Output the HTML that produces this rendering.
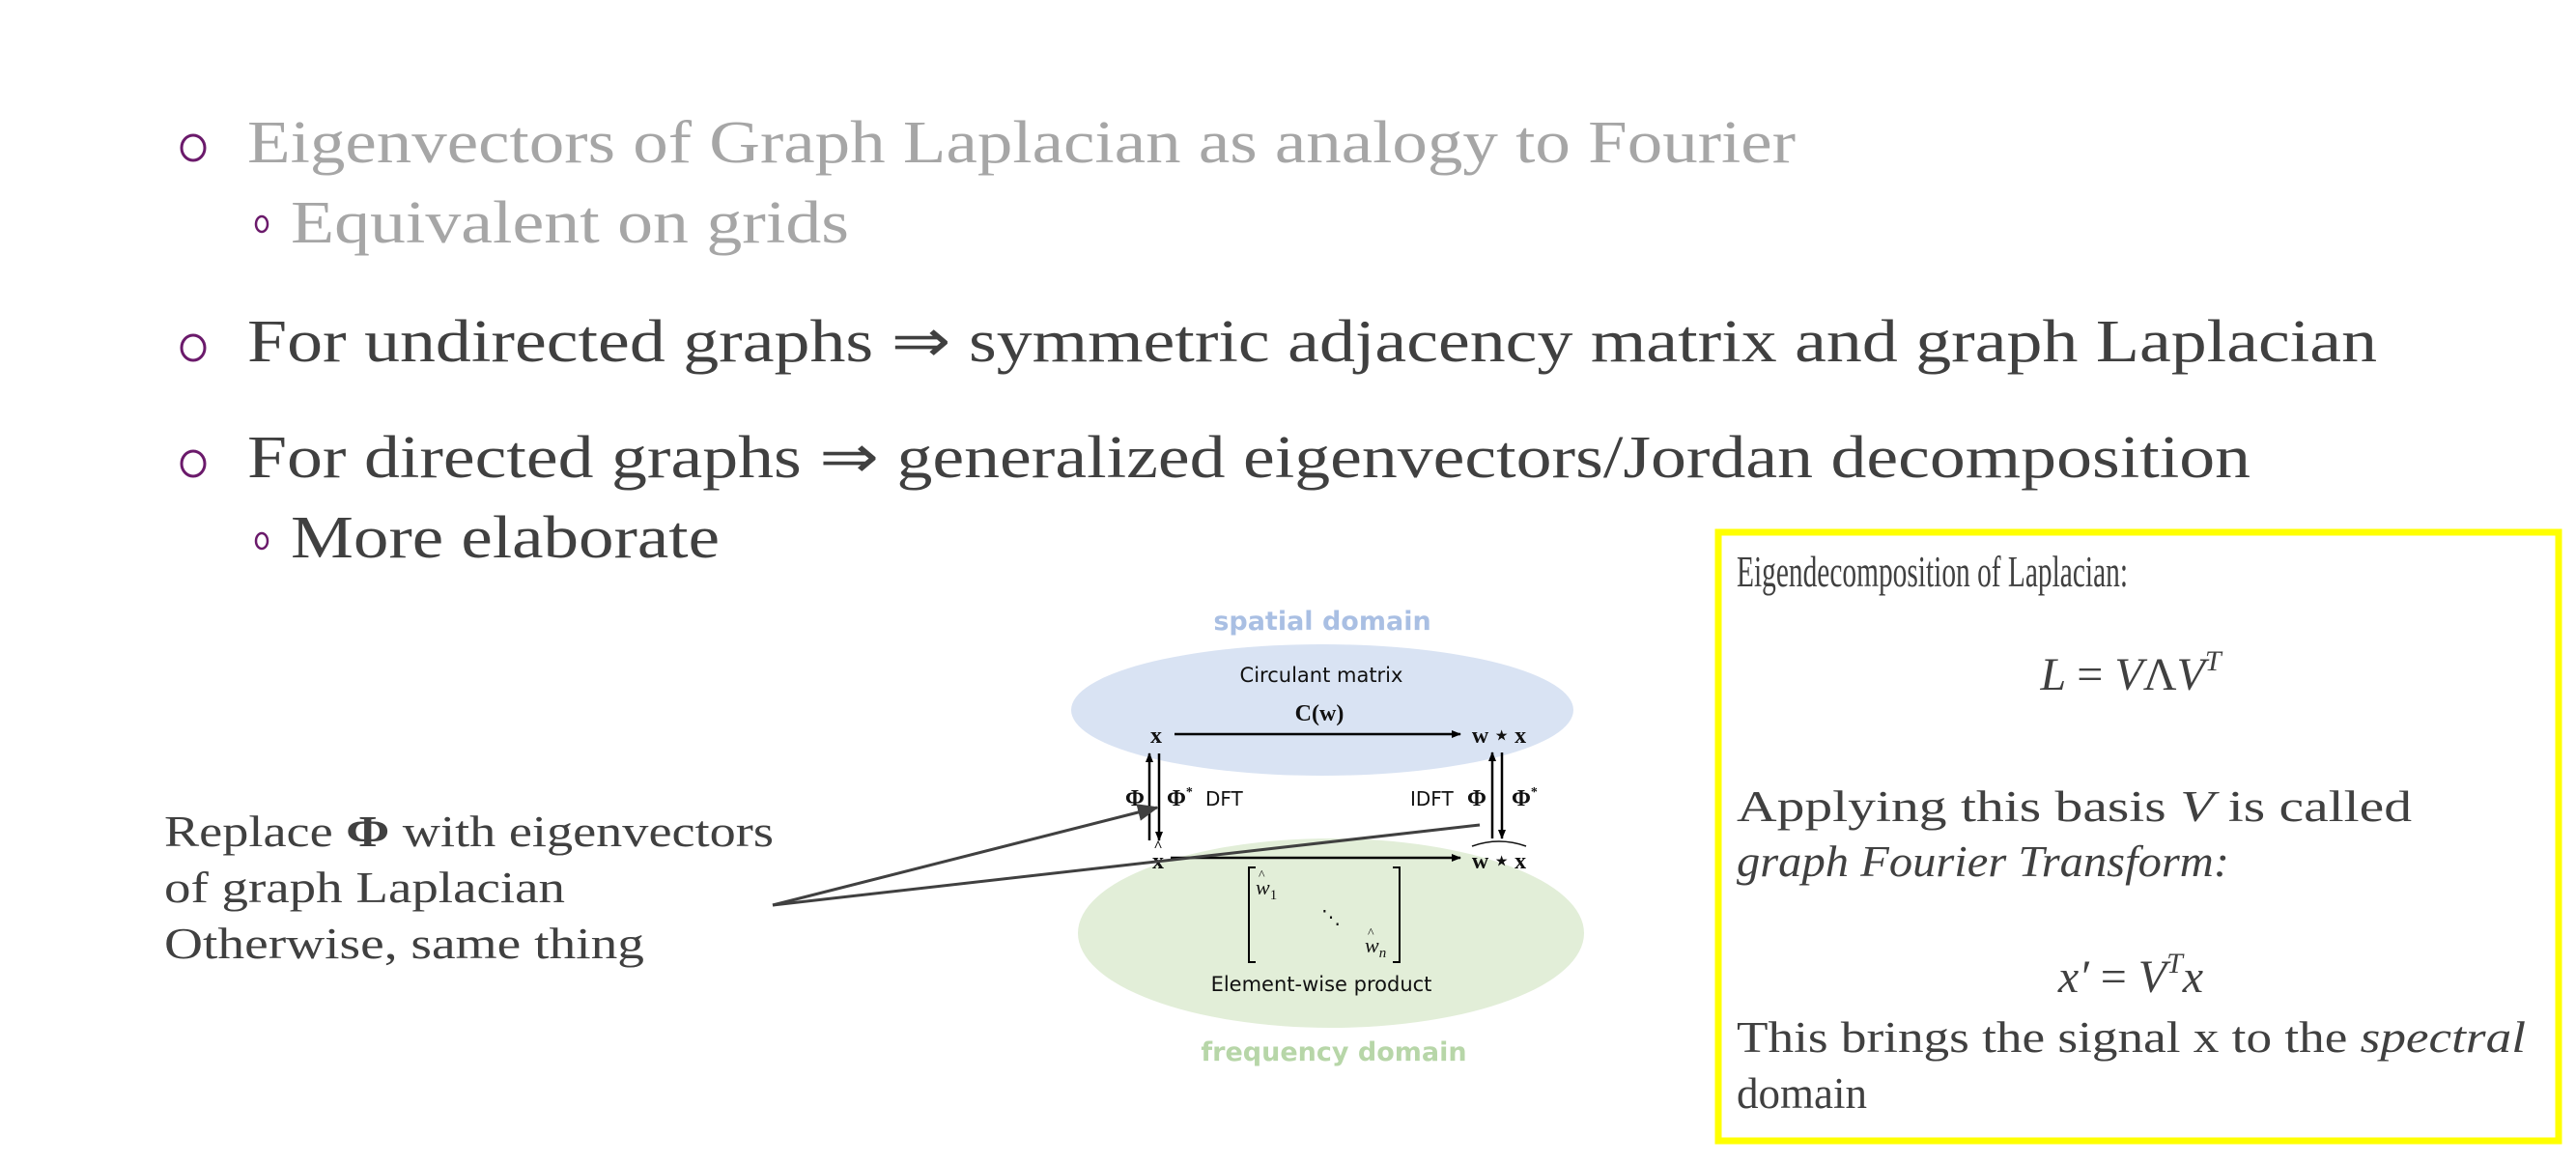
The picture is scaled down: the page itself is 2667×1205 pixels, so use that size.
<!DOCTYPE html>
<html><head><meta charset="utf-8"><style>
html,body{margin:0;padding:0;background:#fff;}
svg{display:block;}
</style></head><body>
<svg width="2667" height="1205" viewBox="0 0 2667 1205" xmlns="http://www.w3.org/2000/svg">
<defs>
<marker id="ah" markerWidth="10" markerHeight="10" refX="9" refY="5" orient="auto" markerUnits="userSpaceOnUse"><path d="M0,1 L10,5 L0,9 Z" fill="#000"/></marker>
<marker id="ah2" markerWidth="22" markerHeight="18" refX="20" refY="9" orient="auto" markerUnits="userSpaceOnUse"><path d="M0,0 L22,9 L0,18 Z" fill="#404040"/></marker>
</defs>
<g font-family="Liberation Serif, serif">
<g fill="none" stroke="#6b1a6b" stroke-width="3">
<ellipse cx="200" cy="153" rx="12" ry="13"/>
<ellipse cx="200" cy="360" rx="12" ry="13"/>
<ellipse cx="200" cy="480" rx="12" ry="13"/>
<ellipse cx="271" cy="232" rx="6" ry="8" stroke-width="2.5"/>
<ellipse cx="271" cy="560" rx="6" ry="8" stroke-width="2.5"/>
</g>
<text x="256" y="168" font-size="62" fill="#a6a6a6" textLength="1603" lengthAdjust="spacingAndGlyphs">Eigenvectors of Graph Laplacian as analogy to Fourier</text>
<text x="301" y="251" font-size="62" fill="#a6a6a6" textLength="578" lengthAdjust="spacingAndGlyphs">Equivalent on grids</text>
<text x="256" y="374" font-size="62" fill="#404040" textLength="2205" lengthAdjust="spacingAndGlyphs">For undirected graphs ⇒ symmetric adjacency matrix and graph Laplacian</text>
<text x="256" y="494" font-size="62" fill="#404040" textLength="2074" lengthAdjust="spacingAndGlyphs">For directed graphs ⇒ generalized eigenvectors/Jordan decomposition</text>
<text x="301" y="577" font-size="62" fill="#404040" textLength="444" lengthAdjust="spacingAndGlyphs">More elaborate</text>

<text x="170" y="876" font-size="46" fill="#404040" textLength="631" lengthAdjust="spacingAndGlyphs">Replace <tspan font-weight="bold">Φ</tspan> with eigenvectors</text>
<text x="170" y="934" font-size="46" fill="#404040" textLength="415" lengthAdjust="spacingAndGlyphs">of graph Laplacian</text>
<text x="170" y="992" font-size="46" fill="#404040" textLength="497" lengthAdjust="spacingAndGlyphs">Otherwise, same thing</text>
</g>

<ellipse cx="1369" cy="735" rx="260" ry="68" fill="#d9e3f3"/>
<ellipse cx="1378" cy="966" rx="262" ry="98" fill="#e2eed8"/>
<g font-family="DejaVu Sans, Liberation Sans, sans-serif" text-anchor="middle">
<text x="1369" y="652" font-size="27" font-weight="bold" fill="#a9bfe3">spatial domain</text>
<text x="1381" y="1098" font-size="27" font-weight="bold" fill="#b7d6a8">frequency domain</text>
<text x="1368" y="706" font-size="21" fill="#111">Circulant matrix</text>
<text x="1368" y="1026" font-size="21" fill="#111">Element-wise product</text>
</g>
<g font-family="Liberation Serif, serif" fill="#111" font-weight="bold" font-size="24">
<text x="1366" y="746" text-anchor="middle">C(w)</text>
<text x="1197" y="769" text-anchor="middle">x</text>
<text x="1552" y="769" text-anchor="middle">w ⋆ x</text>
<text x="1199" y="899" text-anchor="middle">x</text>
<text x="1199" y="881" text-anchor="middle" font-size="16">^</text>
<text x="1552" y="899" text-anchor="middle">w ⋆ x</text>
<path d="M1524,876 Q1552,866 1580,876" fill="none" stroke="#111" stroke-width="1.5"/>
<text x="1175" y="834" text-anchor="middle">Φ</text>
<text x="1208" y="834">Φ<tspan font-size="14" dy="-10">*</tspan></text>
<text x="1519" y="834">Φ</text>
<text x="1565" y="834">Φ<tspan font-size="14" dy="-10">*</tspan></text>
</g>
<g font-family="DejaVu Sans, sans-serif" font-size="20" fill="#111">
<text x="1248" y="834">DFT</text>
<text x="1460" y="834">IDFT</text>
</g>
<g stroke="#000" stroke-width="2.5" fill="none">
<line x1="1216" y1="760" x2="1512" y2="760" marker-end="url(#ah)"/>
<line x1="1212" y1="888" x2="1512" y2="888" marker-end="url(#ah)"/>
<line x1="1190" y1="870" x2="1190" y2="780" marker-end="url(#ah)"/>
<line x1="1200" y1="780" x2="1200" y2="870" marker-end="url(#ah)"/>
<line x1="1545" y1="868" x2="1545" y2="779" marker-end="url(#ah)"/>
<line x1="1555" y1="779" x2="1555" y2="868" marker-end="url(#ah)"/>
<path d="M1300,898 L1293,898 L1293,996 L1300,996" stroke-width="2"/>
<path d="M1442,898 L1449,898 L1449,996 L1442,996" stroke-width="2"/>
</g>
<g font-family="Liberation Serif, serif" font-style="italic" font-size="22" fill="#111">
<text x="1300" y="926">w<tspan font-size="15" font-style="normal" dy="5">1</tspan></text>
<text x="1303" y="910" font-size="14" font-style="normal">^</text>
<text x="1368" y="956" font-size="20" font-style="normal">⋱</text>
<text x="1413" y="986">w<tspan font-size="15" dy="5">n</tspan></text>
<text x="1416" y="970" font-size="14" font-style="normal">^</text>
</g>
<g stroke="#404040" stroke-width="3" fill="none">
<line x1="800" y1="937" x2="1198" y2="836" marker-end="url(#ah2)"/>
<line x1="800" y1="937" x2="1532" y2="854"/>
</g>

<rect x="1779" y="551" width="870" height="630" fill="#fff" stroke="#ffff00" stroke-width="7"/>
<g font-family="Liberation Serif, serif" fill="#404040" font-size="45">
<text x="1798" y="607" textLength="405" lengthAdjust="spacingAndGlyphs">Eigendecomposition of Laplacian:</text>
<text x="2206" y="714" text-anchor="middle" font-style="italic" font-size="48">L <tspan font-style="normal">=</tspan> V<tspan font-style="normal">Λ</tspan>V<tspan font-size="30" dy="-20">T</tspan></text>
<text x="1798" y="850" textLength="699" lengthAdjust="spacingAndGlyphs">Applying this basis <tspan font-style="italic">V</tspan>       is called</text>
<text x="1798" y="907" font-style="italic" textLength="510" lengthAdjust="spacingAndGlyphs">graph Fourier Transform:</text>
<text x="2206" y="1027" text-anchor="middle" font-style="italic" font-size="48">x′ <tspan font-style="normal">=</tspan> V<tspan font-size="30" dy="-20">T</tspan><tspan dy="20">x</tspan></text>
<text x="1798" y="1089" textLength="817" lengthAdjust="spacingAndGlyphs">This brings the signal x to the <tspan font-style="italic">spectral</tspan></text>
<text x="1798" y="1147">domain</text>
</g>
</svg>
</body></html>
